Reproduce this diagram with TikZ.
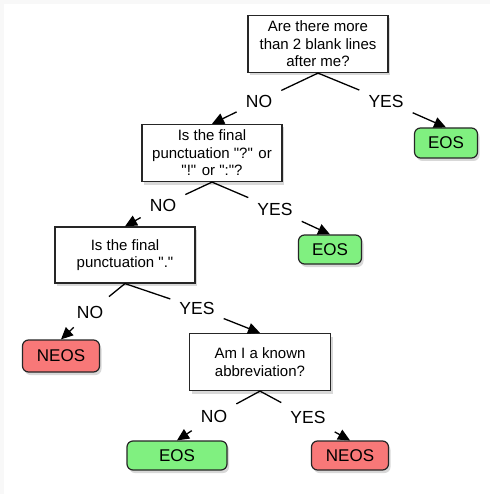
\documentclass[tikz,border=0pt]{standalone}
\usepackage{fontspec}
\setmainfont{Liberation Sans}
\usetikzlibrary{arrows.meta,shadows}
\definecolor{eosgreen}{RGB}{128,240,128}
\definecolor{neosred}{RGB}{248,120,120}
\definecolor{edgegray}{RGB}{248,248,248}
\newcommand{\dq}{\textquotedbl}
\tikzset{
  question/.style={draw=black!85,line width=1.2pt,fill=white,align=center,
    minimum width=140pt,minimum height=57pt,inner sep=2pt,
    font=\fontsize{15}{17.5}\selectfont,
    drop shadow={shadow xshift=2pt,shadow yshift=-3pt,opacity=.3}},
  answer/.style={draw=black!85,line width=1.2pt,rounded corners=6pt,
    minimum height=30pt,inner sep=2pt,font=\fontsize{17}{19}\selectfont,
    drop shadow={shadow xshift=2pt,shadow yshift=-3pt,opacity=.3}},
  eos/.style={answer,fill=eosgreen},
  neos/.style={answer,fill=neosred},
  choice/.style={inner sep=9pt,font=\fontsize{17.5}{19}\selectfont},
  branch/.style={line width=1.3pt},
  pointer/.style={line width=1.3pt,-{Triangle[length=12pt,width=11pt]}}
}
\begin{document}
\begin{tikzpicture}[x=1pt,y=-1pt]
  % page and its faint frame
  \fill[edgegray] (0,0) rectangle (490,494);
  \fill[white] (4,4) rectangle (490,494);
  \useasboundingbox (0,0) rectangle (490,494);

  % questions
  \node[question] (q1) at (318,44) {Are there more\\than 2 blank lines\\after me?};
  \node[question] (q2) at (212,153) {Is the final\\punctuation \dq?\dq{} or\\\dq!\dq{} or \dq:\dq?};
  \node[question,minimum height=56pt] (q3) at (125,255) {Is the final\\punctuation \dq.\dq};
  \node[question,minimum width=141pt] (q4) at (260,362) {Am I a known\\abbreviation?};

  % answers
  \node[eos,minimum width=63pt] (eos1) at (446,143) {EOS};
  \node[eos,minimum width=63pt,minimum height=29pt] (eos2) at (330,249.5) {EOS};
  \node[neos,minimum width=77pt,minimum height=32pt] (neos1) at (61,356) {NEOS};
  \node[eos,minimum width=100pt,minimum height=29pt] (eos3) at (177,455.5) {EOS};
  \node[neos,minimum width=77pt,minimum height=29pt] (neos2) at (350,455.5) {NEOS};

  % branch labels
  \node[choice] (no1) at (259,101) {NO};
  \node[choice] (yes1) at (386,101) {YES};
  \node[choice] (no2) at (163,205) {NO};
  \node[choice] (yes2) at (275,209) {YES};
  \node[choice] (no3) at (90,312) {NO};
  \node[choice] (yes3) at (197,308) {YES};
  \node[choice] (no4) at (214,416) {NO};
  \node[choice] (yes4) at (308,417) {YES};

  % connectors
  \draw[branch] (q1.south) -- (no1);
  \draw[branch] (q1.south) -- (yes1);
  \draw[pointer] (no1) -- (q2.north);
  \draw[pointer] (yes1) -- (eos1.north);

  \draw[branch] (q2.south) -- (no2);
  \draw[branch] (q2.south) -- (yes2);
  \draw[pointer] (no2) -- (q3.north);
  \draw[pointer] (yes2) -- (eos2.north);

  \draw[branch] (q3.south) -- (no3);
  \draw[branch] (q3.south) -- (yes3);
  \draw[pointer] (no3) -- (neos1.north);
  \draw[pointer] (yes3) -- (q4.north);

  \draw[branch] (q4.south) -- (no4);
  \draw[branch] (q4.south) -- (yes4);
  \draw[pointer] (no4) -- (eos3.north);
  \draw[pointer] (yes4) -- (neos2.north);
\end{tikzpicture}
\end{document}
